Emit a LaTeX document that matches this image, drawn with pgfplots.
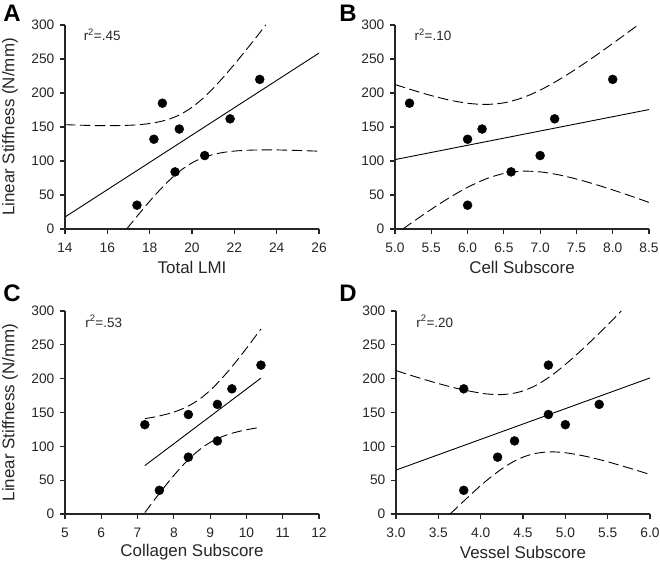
\documentclass[border=0pt]{standalone}
\usepackage{pgfplots}
\pgfplotsset{compat=1.18}
\usepackage{fontspec}
\setmainfont{Liberation Sans}
\tikzset{rtext/.style={anchor=base west, font=\fontsize{13.5}{16}\selectfont, text=black!85}}
\begin{document}
\begin{tikzpicture}
\path[use as bounding box] (0bp,0bp) rectangle (660bp,564bp);
\pgfplotsset{
  panel/.style={
    scale only axis, width=254bp, height=204bp,
    axis lines*=left,
    enlargelimits=false,
    ymin=0, ymax=300, ytick={0,50,...,300},
    axis line style={line width=1.2bp, black!85},
    every tick/.style={line width=1.2bp, black!85},
    major tick length=5bp, tick align=outside,
    minor tick num=0,
    /pgf/number format/assume math mode=true,
    tick label style={font=\fontsize{13.8}{16}\selectfont, text=black!85, inner sep=4bp},
    xticklabel style={yshift=-5bp},
    yticklabel style={xshift=-1.5bp},
    xlabel style={at={(axis description cs:0.5,-0.19)}, anchor=center, font=\fontsize{17}{20}\selectfont, text=black!85},
    ylabel style={at={(axis description cs:-0.2165,0.5)}, anchor=center, font=\fontsize{17}{20}\selectfont, text=black!85},
  },
  pts/.style={only marks, mark=*, mark size=4.5bp, black},
  reg/.style={no marks, black, line width=0.9bp},
  band/.style={no marks, black, line width=0.9bp, dash pattern=on 10.5bp off 4.5bp, smooth},
}
% Panel A
\begin{axis}[panel, at={(65bp,335bp)}, anchor=south west,
  xmin=14, xmax=26, xtick={14,16,...,26},
  xlabel={Total LMI}, ylabel={Linear Stiffness (N/mm)}]
\addplot[pts] coordinates {(17.4,35) (19.2,84) (20.6,108) (18.2,132) (19.4,147) (21.8,162) (18.6,185) (23.2,220)};
\addplot[reg] coordinates {(14,17.6) (26,258.7)};
\addplot[band] coordinates {(14,153.4) (15,152.4) (16,151.9) (17,152.5) (17.5,153.4) (18,155.1) (18.5,158.0) (19,162.4) (19.5,169.3) (20,179.0) (20.5,191.7) (21,206.9) (21.5,223.9) (22,242.1) (22.5,261.1) (23,280.6) (23.485,300)};
\addplot[band] coordinates {(16.92,0) (17,3.3) (17.5,22.4) (18,40.8) (18.5,58.1) (19,73.7) (19.5,86.9) (20,97.3) (20.5,104.6) (21,109.5) (21.5,112.7) (22,114.6) (22.5,115.6) (23,116.2) (23.5,116.4) (24,116.3) (25,115.5) (26,114.4)};
\node[rtext] at (rel axis cs:0.06,0.925) {r\textsuperscript{2}=.45};
\end{axis}
% Panel B
\begin{axis}[panel, at={(395bp,335bp)}, anchor=south west,
  xmin=5, xmax=8.5, xtick={5,5.5,...,8.5},
  xticklabel style={/pgf/number format/.cd, fixed, fixed zerofill, precision=1},
  xlabel={Cell Subscore}]
\addplot[pts] coordinates {(6.0,35) (6.6,84) (7.0,108) (6.0,132) (6.2,147) (7.2,162) (5.2,185) (8.0,220)};
\addplot[reg] coordinates {(5,102.07) (8.5,175.64)};
\addplot[band] coordinates {(5,212.5) (5.25,204.0) (5.5,196.2) (5.75,189.6) (6,184.9) (6.25,183.2) (6.5,185.5) (6.75,192.7) (7,204.2) (7.25,218.9) (7.5,235.7) (7.75,253.8) (8,272.8) (8.25,292.3) (8.349,300)};
\addplot[band] coordinates {(5.109,0) (5.25,10.7) (5.5,29.0) (5.75,46.1) (6,61.3) (6.25,73.5) (6.5,81.7) (6.75,85.0) (7,84.0) (7.25,79.8) (7.5,73.5) (7.75,65.9) (8,57.5) (8.25,48.5) (8.5,39.1)};
\node[rtext] at (rel axis cs:0.063,0.925) {r\textsuperscript{2}=.10};
\end{axis}
% Panel C
\begin{axis}[panel, at={(65bp,50bp)}, anchor=south west, height=203bp,
  xmin=5, xmax=12, xtick={5,6,...,12},
  xlabel={Collagen Subscore}, ylabel={Linear Stiffness (N/mm)}]
\addplot[pts] coordinates {(7.6,35) (8.4,84) (9.2,108) (7.2,132) (8.4,147) (9.2,162) (9.6,185) (10.4,220)};
\addplot[reg] coordinates {(7.2,71.48) (10.4,200.81)};
\addplot[band] coordinates {(7.2,140.9) (7.4,142.7) (7.6,144.9) (7.8,147.5) (8,150.6) (8.2,154.6) (8.4,159.6) (8.6,165.8) (8.8,173.5) (9,182.7) (9.2,193.3) (9.4,205.0) (9.6,217.7) (9.8,231.0) (10,244.8) (10.2,259.0) (10.4,273.4)};
\addplot[band] coordinates {(7.2,2.1) (7.4,16.4) (7.6,30.4) (7.8,44.0) (8,57.0) (8.2,69.2) (8.4,80.4) (8.6,90.3) (8.8,98.8) (9,105.8) (9.2,111.3) (9.4,115.7) (9.6,119.3) (9.8,122.1) (10,124.5) (10.2,126.5) (10.4,128.2)};
\node[rtext] at (rel axis cs:0.066,0.921) {r\textsuperscript{2}=.53};
\end{axis}
% Panel D
\begin{axis}[panel, at={(396bp,50bp)}, anchor=south west, height=203bp,
  xmin=3, xmax=6, xtick={3,3.5,...,6},
  xticklabel style={/pgf/number format/.cd, fixed, fixed zerofill, precision=1},
  xlabel={Vessel Subscore}]
\addplot[pts] coordinates {(3.8,35) (4.2,84) (4.4,108) (5.0,132) (4.8,147) (5.4,162) (3.8,185) (4.8,220)};
\addplot[reg] coordinates {(3,64.9) (6,201.07)};
\addplot[band] coordinates {(3,211.9) (3.25,202.0) (3.5,192.8) (3.75,184.7) (4,178.6) (4.125,176.9) (4.25,176.5) (4.375,178.1) (4.5,181.9) (4.625,188.4) (4.75,197.3) (4.875,208.3) (5,220.9) (5.125,234.6) (5.25,249.1) (5.375,264.1) (5.5,279.6) (5.661,300)};
\addplot[band] coordinates {(3.6415,0) (3.75,13.2) (4,42.0) (4.125,55.0) (4.25,66.7) (4.375,76.6) (4.5,84.0) (4.625,88.9) (4.75,91.3) (4.875,91.7) (5,90.5) (5.125,88.1) (5.25,85.0) (5.375,81.3) (5.5,77.2) (5.75,68.1) (6,58.4)};
\node[rtext] at (rel axis cs:0.066,0.921) {r\textsuperscript{2}=.20};
\end{axis}
% Panel letters
\node[font=\bfseries\fontsize{24}{27}\selectfont] at (12bp,551bp) {A};
\node[font=\bfseries\fontsize{24}{27}\selectfont] at (348bp,551bp) {B};
\node[font=\bfseries\fontsize{24}{27}\selectfont] at (12bp,271bp) {C};
\node[font=\bfseries\fontsize{24}{27}\selectfont] at (348bp,271bp) {D};
\end{tikzpicture}
\end{document}
